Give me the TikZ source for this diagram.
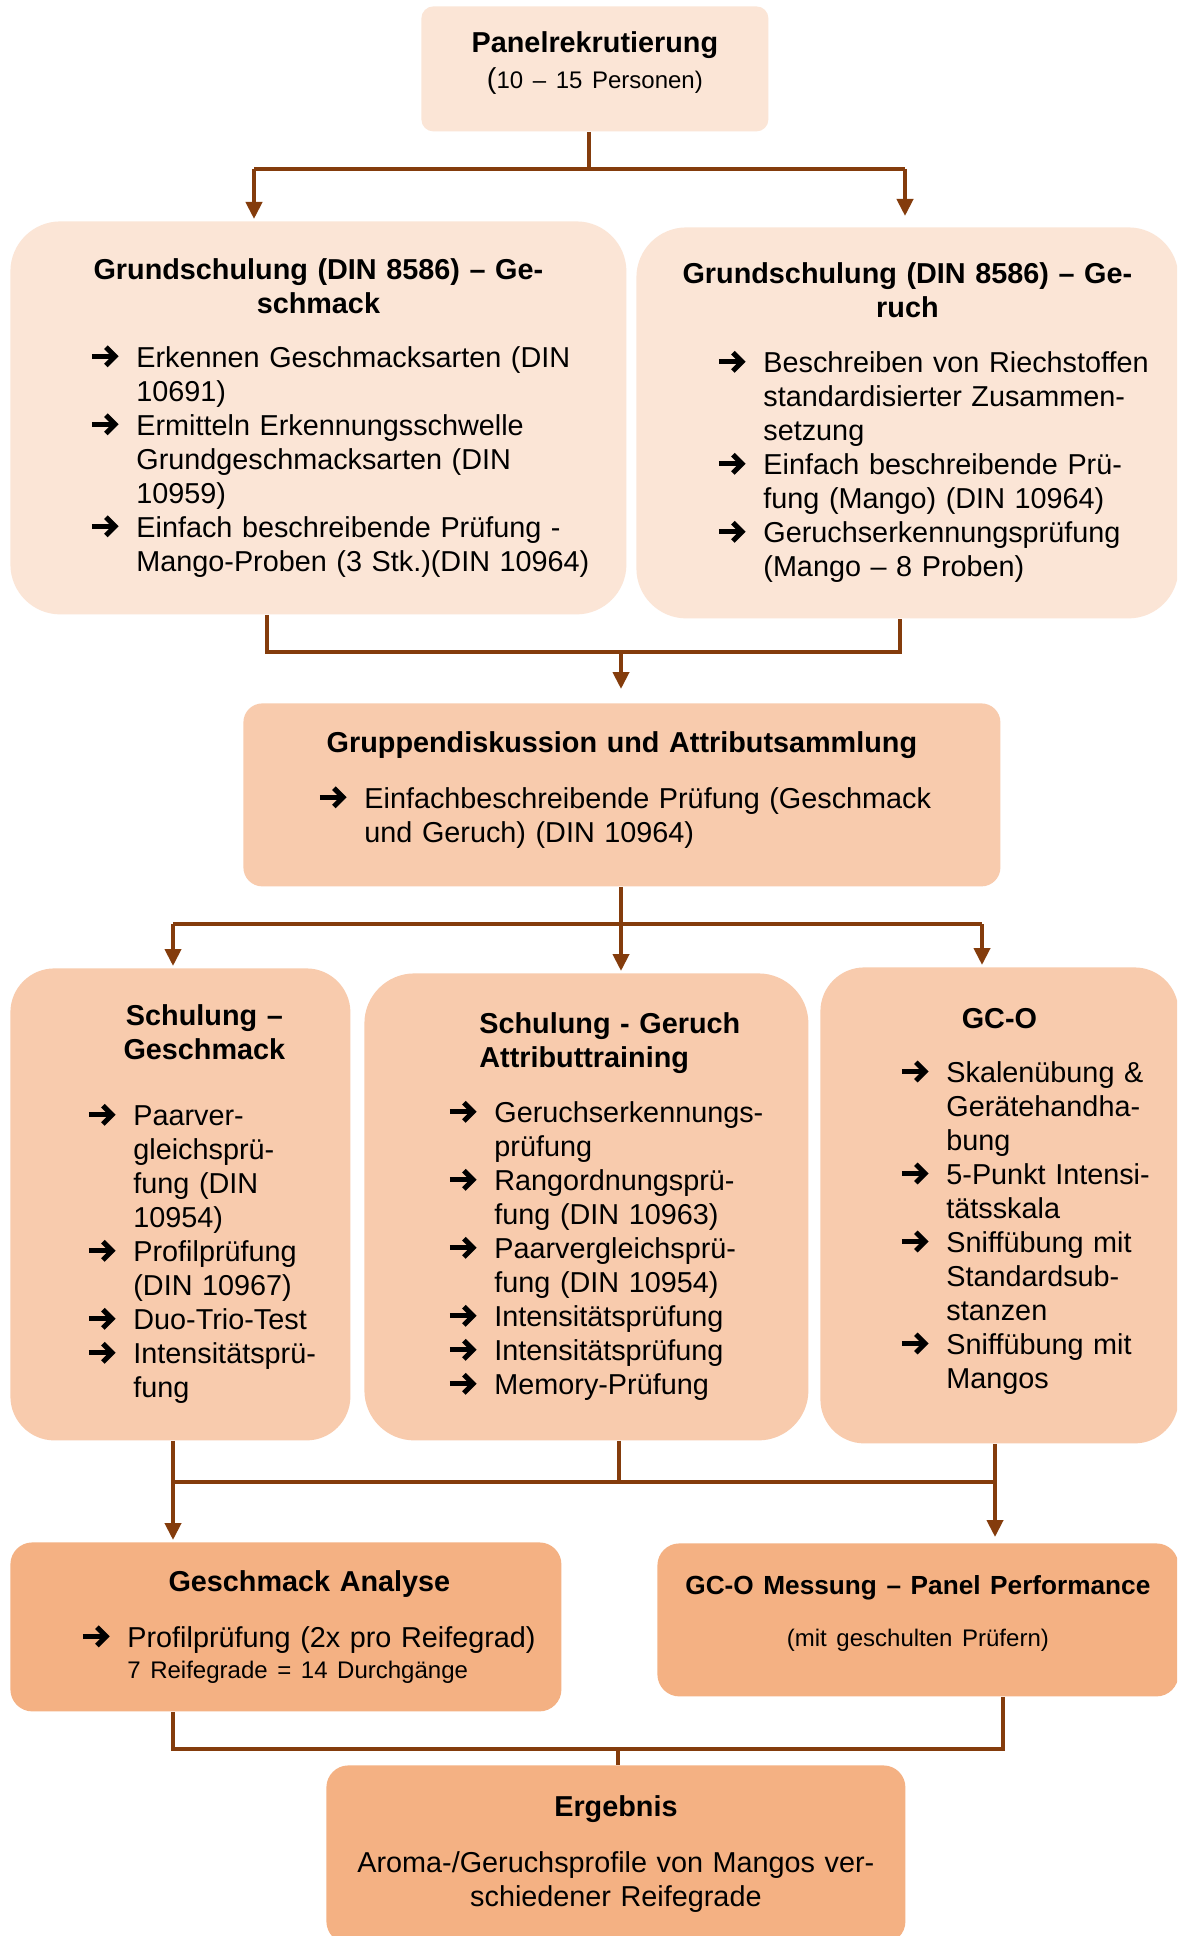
\documentclass[tikz,border=0pt]{standalone}
\usepackage{fontspec}
\setmainfont{Liberation Sans}
\usetikzlibrary{arrows.meta}
\definecolor{peachA}{HTML}{FBE5D6}
\definecolor{peachB}{HTML}{F8CBAD}
\definecolor{peachC}{HTML}{F4B183}
\definecolor{linkbrown}{HTML}{843C0C}
\setlength\parindent{0pt}
\setlength\parskip{0pt}
\newcommand\mainsize{\fontsize{14.4}{17}\selectfont}
\newcommand\smallsize{\fontsize{12}{14.5}\selectfont}
% heavy arrow in front of each point
\newcommand\arrowtip{\tikz[x=1pt,y=1pt,baseline={(0pt,-5.5pt)},sharp corners]{
  \draw[line width=2.5pt, draw=black, fill=none] (0pt,0pt) -- (10.5pt,0pt);
  \draw[line width=2.5pt, draw=black, fill=none, miter limit=4] (7pt,4.6pt) -- (11.6pt,0pt) -- (7pt,-4.6pt);}}
% one arrow point, text hangs under the first line
\newcommand\arrowitem{\par\hangindent=23.5pt\hangafter=1\noindent\makebox[23.5pt][l]{\arrowtip}}
\newcommand\headline[2][0pt]{{\centering\leftskip=#1 plus 1fil\bfseries #2\par}}
\newcommand\itemsat[2]{{\leftskip=#1\relax #2\par}}
% empty space under the text, lifts it in its box
\newcommand\tailspace[1]{\par\vspace{#1}\hrule height 0pt width 0pt}
\tikzset{
  stage/.style={anchor=north west, inner sep=0pt, align=left, font=\mainsize},
  boxsize/.style 2 args={minimum width=#1, text width=#1, minimum height=#2},
  lightbox/.style={stage, fill=peachA},
  midbox/.style={stage, fill=peachB},
  darkbox/.style={stage, fill=peachC},
  link/.style={draw=linkbrown, line width=2pt},
  flow/.style={link, shorten >=1pt, -{Triangle[length=8.5pt,width=8pt]}},
}

\begin{document}
\begin{tikzpicture}[x=0.5pt,y=-0.5pt]
\clip (0,0) rectangle (1177,1936);
\fill[white] (0,0) rectangle (1177,1936);

% first row
\node[lightbox, boxsize={173.5pt}{62.5pt}, rounded corners=6pt] (panel) at (421,6)
  {\headline{Panelrekrutierung}\vspace{3.5pt}
   {\centering\smallsize{\mainsize(}10 – 15 Personen)\par}\tailspace{6pt}};

% basic training
\node[lightbox, boxsize={308pt}{196.5pt}, rounded corners=25pt] (gsL) at (10,221)
  {\headline{Grundschulung (DIN 8586) – Ge-\\schmack}\vspace{10pt}
   \itemsat{39.5pt}{%
   \arrowitem Erkennen Geschmacksarten (DIN\newline 10691)
   \arrowitem Ermitteln Erkennungsschwelle\newline Grundgeschmacksarten (DIN\newline 10959)
   \arrowitem Einfach beschreibende Prüfung -\newline Mango-Proben (3 Stk.)(DIN 10964)}};
\node[lightbox, boxsize={271pt}{195.5pt}, rounded corners=25pt] (gsR) at (636,227)
  {\headline{Grundschulung (DIN 8586) – Ge-\\ruch}\vspace{10.5pt}
   \itemsat{40pt}{%
   \arrowitem Beschreiben von Riechstoffen\newline standardisierter Zusammen-\newline setzung
   \arrowitem Einfach beschreibende Prü-\newline fung (Mango) (DIN 10964)
   \arrowitem Geruchserkennungsprüfung\newline (Mango – 8 Proben)}};

% discussion
\node[midbox, boxsize={378.5pt}{91.5pt}, rounded corners=9.5pt] (grp) at (243,703)
  {\headline{Gruppendiskussion und Attributsammlung}\vspace{11pt}
   \itemsat{37pt}{%
   \arrowitem Einfachbeschreibende Prüfung (Geschmack\newline und Geruch) (DIN 10964)}\tailspace{5pt}};

% trainings
\node[midbox, boxsize={170pt}{236pt}, rounded corners=22pt] (sgL) at (10,968)
  {\headline[24pt]{Schulung –\\Geschmack}\vspace{16pt}
   \itemsat{38pt}{%
   \arrowitem Paarver-\newline gleichsprü-\newline fung (DIN\newline 10954)
   \arrowitem Profilprüfung\newline (DIN 10967)
   \arrowitem Duo-Trio-Test
   \arrowitem Intensitätsprü-\newline fung}};
\node[midbox, boxsize={222pt}{233.5pt}, rounded corners=25pt] (sgM) at (364,973)
  {{\raggedright\leftskip=57.5pt\bfseries Schulung - Geruch\\Attributtraining\par}\vspace{10.5pt}
   \itemsat{41.5pt}{%
   \arrowitem Geruchserkennungs-\newline prüfung
   \arrowitem Rangordnungsprü-\newline fung (DIN 10963)
   \arrowitem Paarvergleichsprü-\newline fung (DIN 10954)
   \arrowitem Intensitätsprüfung
   \arrowitem Intensitätsprüfung
   \arrowitem Memory-Prüfung}};
\node[midbox, boxsize={179pt}{238pt}, rounded corners=22pt] (gco) at (820,967)
  {\headline{GC-O}\vspace{10pt}
   \itemsat{39.5pt}{%
   \arrowitem Skalenübung \&\newline Gerätehandha-\newline bung
   \arrowitem 5-Punkt Intensi-\newline tätsskala
   \arrowitem Sniffübung mit\newline Standardsub-\newline stanzen
   \arrowitem Sniffübung mit\newline Mangos}\tailspace{4pt}};

% analysis
\node[darkbox, boxsize={275.5pt}{84.5pt}, rounded corners=11pt] (ana) at (10,1542)
  {\headline[23.5pt]{Geschmack Analyse}\vspace{11pt}
   \itemsat{35pt}{%
   \arrowitem Profilprüfung (2x pro Reifegrad)}
   {\leftskip=58.5pt\fontsize{12}{15.5}\selectfont 7 Reifegrade = 14 Durchgänge\par}};
\node[darkbox, boxsize={260.5pt}{76.5pt}, rounded corners=11pt] (gcm) at (657,1543)
  {{\centering\bfseries\fontsize{13.1}{17}\selectfont GC-O Messung – Panel Performance\par}\vspace{11.5pt}
   {\centering\smallsize (mit geschulten Prüfern)\par}\tailspace{6pt}};

% result
\node[darkbox, boxsize={289.5pt}{89pt}, rounded corners=11pt] (erg) at (326,1765)
  {\headline{Ergebnis}\vspace{11pt}
   {\centering Aroma-/Geruchsprofile von Mangos ver-\\schiedener Reifegrade\par}};

% connectors
\coordinate (s1) at (589,169);
\coordinate (s1L) at (254,169);
\coordinate (s1R) at (905,169);
\draw[link] (panel.south -| s1) -- (s1);
\draw[link] (s1L) -- (s1R);
\draw[flow] (s1L) -- (s1L |- gsL.north);
\draw[flow, shorten >=5.5pt] (s1R) -- (s1R |- gsR.north);

\coordinate (s2) at (621,652);
\coordinate (s2L) at (267,652);
\coordinate (s2R) at (900,652);
\draw[link] (s2L |- gsL.south) -- (s2L) -- (s2R) -- (s2R |- gsR.south);
\draw[flow, shorten >=7pt] (s2) -- (s2 |- grp.north);

\coordinate (s3) at (621,924);
\coordinate (s3L) at (173,924);
\coordinate (s3R) at (982,924);
\draw[link] (s3 |- grp.south) -- (s3);
\draw[link] (s3L) -- (s3R);
\draw[flow] (s3L) -- (s3L |- sgL.north);
\draw[flow] (s3) -- (s3 |- sgM.north);
\draw[flow] (s3R) -- (s3R |- gco.north);

\coordinate (s4) at (619,1482);
\coordinate (s4L) at (173,1482);
\coordinate (s4R) at (995,1482);
\draw[link] (s4 |- sgM.south) -- (s4);
\draw[link] (s4L) -- (s4R);
\draw[flow] (s4L |- sgL.south) -- (s4L |- ana.north);
\draw[flow, shorten >=3pt] (s4R |- gco.south) -- (s4R |- gcm.north);

\coordinate (s5) at (618,1749);
\coordinate (s5L) at (173,1749);
\coordinate (s5R) at (1003,1749);
\draw[link] (s5L |- ana.south) -- (s5L) -- (s5R) -- (s5R |- gcm.south);
\draw[link] (s5) -- (s5 |- erg.north);
\end{tikzpicture}
\end{document}
